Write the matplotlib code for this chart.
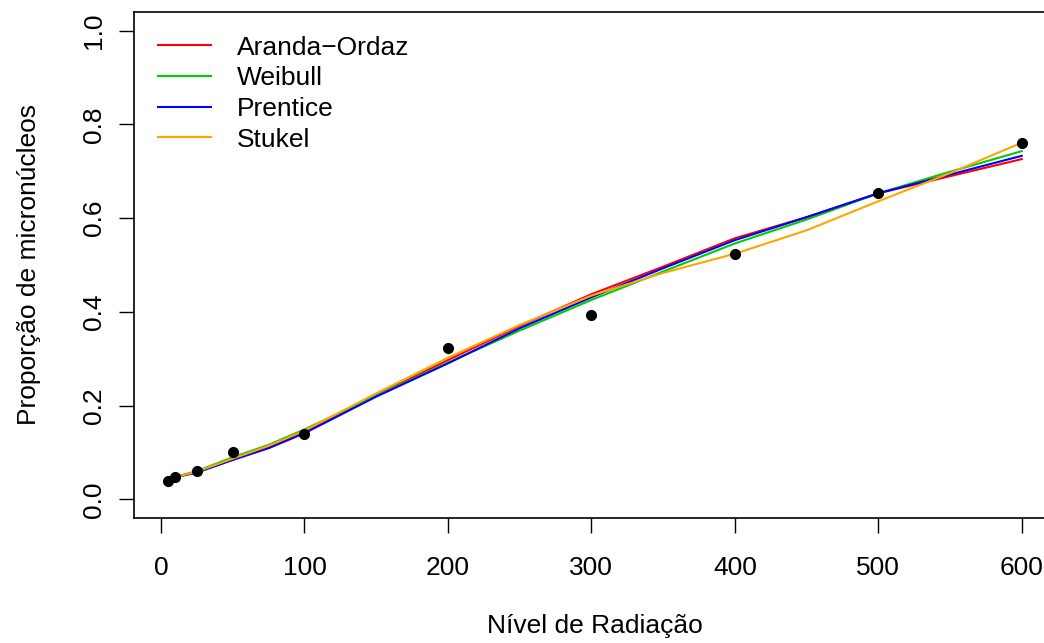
import matplotlib
matplotlib.use("Agg")
import matplotlib.pyplot as plt

# observed proportions
dose = [5, 10, 25, 50, 100, 200, 300, 400, 500, 600]
prop = [0.039, 0.047, 0.060, 0.101, 0.139, 0.322, 0.394, 0.524, 0.654, 0.761]

# fitted curves
grade = [5, 10, 25, 50, 75, 100, 150, 200, 250, 300, 350, 400, 450, 500, 550, 600]
aranda = [0.044, 0.047, 0.058, 0.0845, 0.112, 0.143, 0.222, 0.297, 0.370, 0.4376,
          0.4965, 0.557, 0.602, 0.653, 0.6895, 0.726]
weibull = [0.045, 0.048, 0.060, 0.0896, 0.116, 0.149, 0.221, 0.2916, 0.360, 0.4254,
           0.486, 0.546, 0.597, 0.653, 0.699, 0.743]
prentice = [0.044, 0.047, 0.057, 0.0839, 0.109, 0.141, 0.219, 0.290, 0.365, 0.431,
            0.493, 0.553, 0.602, 0.653, 0.693, 0.733]
stukel = [0.044, 0.047, 0.059, 0.0867, 0.114, 0.1465, 0.226, 0.302, 0.372, 0.4346,
          0.483, 0.524, 0.574, 0.636, 0.696, 0.761]

nomes = ["Aranda\u2212Ordaz", "Weibull", "Prentice", "Stukel"]
cores = ["#FF0000", "#00CD00", "#0000FF", "#FFA500"]

plt.rcParams["font.family"] = ["Liberation Sans", "DejaVu Sans"]
plt.rcParams["font.size"] = 19

fig = plt.figure(figsize=(10.44, 6.43), dpi=100)
ax = fig.add_axes([0.1284, 0.1944, 0.883, 0.787])

ax.plot(dose, prop, "o", color="black", ms=7, zorder=5)
for curva, nome, cor in zip([aranda, weibull, prentice, stukel], nomes, cores):
    ax.plot(grade, curva, color=cor, lw=1.5, label=nome)

ax.set_xlim(-18.8, 623.8)
ax.set_ylim(-0.04, 1.04)
ax.set_xticks([0, 100, 200, 300, 400, 500, 600])
ax.set_yticks([0.0, 0.2, 0.4, 0.6, 0.8, 1.0])
ax.set_yticklabels(["0.0", "0.2", "0.4", "0.6", "0.8", "1.0"], rotation=90, va="center")
ax.tick_params(length=11, width=1)
ax.tick_params(axis="x", pad=16)
ax.tick_params(axis="y", pad=9)
for s in ax.spines.values():
    s.set_linewidth(1.2)

ax.set_xlabel("N\u00edvel de Radia\u00e7\u00e3o", labelpad=25)
ax.set_ylabel("Propor\u00e7\u00e3o de micron\u00facleos", labelpad=30)

ax.legend(loc="upper left", frameon=False, handlelength=2.0, handletextpad=1.0,
          labelspacing=0.25, borderaxespad=0.5)

fig.savefig("out.png", dpi=100)
